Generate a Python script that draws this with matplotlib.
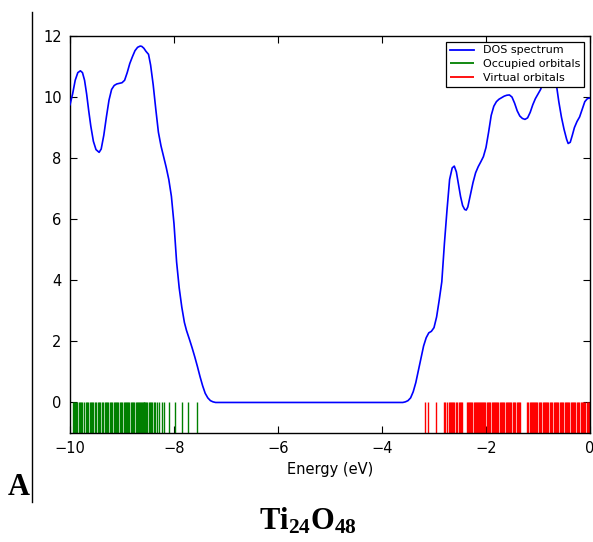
import matplotlib
matplotlib.use("Agg")
import matplotlib.pyplot as plt
from matplotlib.lines import Line2D

# DOS curve
energy = [-10.00, -9.95, -9.90, -9.85, -9.80, -9.76, -9.72, -9.68, -9.64, -9.60,
          -9.55, -9.50, -9.44, -9.40, -9.35, -9.30, -9.25, -9.20, -9.15, -9.10,
          -9.05, -9.00, -8.95, -8.90, -8.85, -8.80, -8.75, -8.70, -8.65, -8.62,
          -8.58, -8.54, -8.49, -8.45, -8.40, -8.35, -8.30, -8.25, -8.20, -8.15,
          -8.10, -8.05, -8.00, -7.95, -7.90, -7.85, -7.80, -7.76, -7.70, -7.65,
          -7.60, -7.55, -7.50, -7.45, -7.40, -7.35, -7.30, -7.25, -7.20,
          -3.60, -3.55, -3.50, -3.45, -3.40, -3.35, -3.30, -3.25, -3.20, -3.15,
          -3.10, -3.05, -3.00, -2.95, -2.90, -2.85, -2.80, -2.75, -2.70, -2.65,
          -2.61, -2.57, -2.53, -2.49, -2.45, -2.41, -2.38, -2.35, -2.30, -2.25,
          -2.20, -2.15, -2.10, -2.05, -2.00, -1.95, -1.90, -1.85, -1.80, -1.75,
          -1.70, -1.65, -1.60, -1.55, -1.50, -1.45, -1.40, -1.35, -1.30, -1.25,
          -1.20, -1.15, -1.10, -1.05, -1.00, -0.95, -0.90, -0.85, -0.80, -0.75,
          -0.70, -0.65, -0.60, -0.55, -0.50, -0.45, -0.42, -0.38, -0.34, -0.30,
          -0.25, -0.20, -0.15, -0.10, -0.05, 0.00]
dos = [9.75, 10.10, 10.55, 10.80, 10.86, 10.80, 10.55, 10.10, 9.55, 9.05,
       8.55, 8.28, 8.19, 8.30, 8.75, 9.35, 9.90, 10.25, 10.38, 10.43,
       10.45, 10.47, 10.55, 10.80, 11.10, 11.32, 11.52, 11.63, 11.67, 11.66,
       11.60, 11.50, 11.40, 11.05, 10.40, 9.60, 8.85, 8.40, 8.05, 7.70,
       7.30, 6.75, 5.85, 4.60, 3.75, 3.12, 2.62, 2.36, 2.05, 1.78,
       1.49, 1.18, 0.85, 0.55, 0.30, 0.15, 0.06, 0.02, 0.00,
       0.00, 0.02, 0.06, 0.15, 0.35, 0.65, 1.05, 1.45, 1.85, 2.12,
       2.28, 2.33, 2.45, 2.80, 3.35, 3.95, 5.20, 6.30, 7.30, 7.68,
       7.74, 7.55, 7.15, 6.75, 6.45, 6.32, 6.30, 6.40, 6.80, 7.20,
       7.52, 7.72, 7.88, 8.05, 8.35, 8.85, 9.40, 9.70, 9.85, 9.93,
       9.98, 10.03, 10.06, 10.07, 10.00, 9.80, 9.55, 9.38, 9.30, 9.27,
       9.32, 9.50, 9.75, 9.95, 10.10, 10.25, 10.50, 10.85, 11.05, 11.05,
       10.85, 10.45, 9.85, 9.35, 8.95, 8.62, 8.48, 8.52, 8.75, 9.00,
       9.20, 9.35, 9.60, 9.85, 9.95, 9.97]

# orbital energies (eV)
occupied = [-9.95, -9.93, -9.91, -9.88, -9.86, -9.83, -9.81, -9.78, -9.76, -9.73,
            -9.70, -9.68, -9.66, -9.62, -9.59, -9.57, -9.55, -9.52, -9.50, -9.47,
            -9.44, -9.42, -9.38, -9.36, -9.33, -9.31, -9.28, -9.26, -9.23, -9.21,
            -9.19, -9.16, -9.14, -9.11, -9.09, -9.07, -9.04, -9.02, -9.00, -8.97,
            -8.95, -8.93, -8.90, -8.88, -8.86, -8.83, -8.81, -8.78, -8.76, -8.74,
            -8.72, -8.70, -8.68, -8.66, -8.64, -8.62, -8.60, -8.58, -8.57, -8.55,
            -8.53, -8.51, -8.49, -8.47, -8.44, -8.42, -8.38, -8.36, -8.33, -8.28,
            -8.24, -8.19, -8.10, -7.98, -7.85, -7.73, -7.56]
virtual = [-3.17, -3.12, -2.96, -2.80, -2.78, -2.75, -2.72, -2.70, -2.68, -2.65,
           -2.63, -2.61, -2.58, -2.56, -2.52, -2.50, -2.48, -2.46, -2.37, -2.35,
           -2.33, -2.31, -2.29, -2.27, -2.24, -2.22, -2.20, -2.18, -2.16, -2.13,
           -2.11, -2.09, -2.07, -2.05, -2.03, -2.01, -1.98, -1.96, -1.94, -1.92,
           -1.89, -1.87, -1.85, -1.83, -1.80, -1.78, -1.76, -1.74, -1.72, -1.69,
           -1.67, -1.65, -1.62, -1.60, -1.58, -1.55, -1.53, -1.51, -1.48, -1.46,
           -1.44, -1.41, -1.39, -1.37, -1.34, -1.21, -1.19, -1.16, -1.14, -1.12,
           -1.10, -1.07, -1.05, -1.03, -1.01, -0.98, -0.96, -0.94, -0.91, -0.89,
           -0.87, -0.84, -0.82, -0.80, -0.77, -0.75, -0.73, -0.70, -0.68, -0.66,
           -0.63, -0.61, -0.58, -0.56, -0.54, -0.51, -0.49, -0.47, -0.44, -0.42,
           -0.40, -0.37, -0.35, -0.33, -0.30, -0.28, -0.25, -0.23, -0.21, -0.18,
           -0.16, -0.13, -0.11, -0.09, -0.06, -0.04, -0.02]

xticks = [-10, -8, -6, -4, -2, 0]
yticks = [0, 2, 4, 6, 8, 10, 12]

plt.rcParams['font.family'] = ['DejaVu Sans']
plt.rcParams['mathtext.fontset'] = 'custom'
plt.rcParams['mathtext.bf'] = 'Liberation Serif:bold'
plt.rcParams['mathtext.rm'] = 'Liberation Serif'

fig = plt.figure(figsize=(5.93, 5.42), dpi=100)
ax = fig.add_axes([70/593, 1-433/542, 520/593, 397/542])

ax.plot(energy, dos, color='#0000ff', lw=1.2, label='DOS spectrum', zorder=3)
ax.vlines(occupied, -1, 0, colors='#008000', lw=1.0, label='Occupied orbitals')
ax.vlines(virtual, -1, 0, colors='#ff0000', lw=1.0, label='Virtual orbitals')

ax.set_xlim(-10, 0)
ax.set_ylim(-1, 12)
ax.set_xticks(xticks)
ax.set_yticks(yticks)
ax.tick_params(direction='in', top=True, right=True, length=5, labelsize=10.5, pad=6)
ax.set_xlabel('Energy (eV)', fontsize=10.5, labelpad=4)
for s in ax.spines.values():
    s.set_color('black')
    s.set_linewidth(1.0)

leg = ax.legend(loc='upper right', fontsize=8, fancybox=False, framealpha=1,
                edgecolor='black', borderaxespad=0.5, handlelength=2.2,
                borderpad=0.35, labelspacing=0.35)
leg.get_frame().set_linewidth(0.9)
leg.set_zorder(5)
for h in leg.legend_handles:
    h.set_linewidth(1.3)

fig.add_artist(Line2D([31.7/593, 31.7/593], [1-12/542, 1-502/542],
                      color='black', lw=1.0, transform=fig.transFigure))
fig.text(8/593, 1-495/542, 'A', fontsize=22, fontweight='bold',
         family='Liberation Serif', ha='left', va='baseline')
fig.text(308/593, 1-530/542, r'$\mathbf{Ti_{24}O_{48}}$', fontsize=22,
         ha='center', va='baseline')

fig.savefig('out.png', dpi=100, facecolor='white')
